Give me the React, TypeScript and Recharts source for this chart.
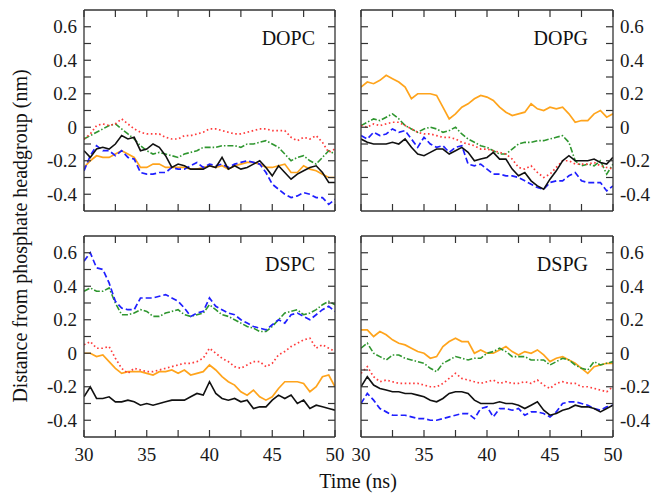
import React from 'react';
import { LineChart, Line, XAxis, YAxis } from 'recharts';

const TIME = [30, 30.5, 31, 31.5, 32, 32.5, 33, 33.5, 34, 34.5, 35, 35.5, 36, 36.5, 37, 37.5, 38, 38.5, 39, 39.5, 40, 40.5, 41, 41.5, 42, 42.5, 43, 43.5, 44, 44.5, 45, 45.5, 46, 46.5, 47, 47.5, 48, 48.5, 49, 49.5, 50];
const X_TICKS = [30, 32.5, 35, 37.5, 40, 42.5, 45, 47.5, 50];
const Y_TICKS = [-0.4, -0.3, -0.2, -0.1, 0, 0.1, 0.2, 0.3, 0.4, 0.5, 0.6];

// DOPC
const DOPC_BLACK = [-0.14, -0.18, -0.13, -0.12, -0.13, -0.1, -0.05, -0.07, -0.06, -0.14, -0.13, -0.1, -0.12, -0.17, -0.24, -0.22, -0.23, -0.25, -0.25, -0.25, -0.23, -0.24, -0.18, -0.25, -0.23, -0.25, -0.24, -0.22, -0.2, -0.24, -0.29, -0.23, -0.27, -0.31, -0.28, -0.26, -0.24, -0.23, -0.27, -0.33, -0.33];
const DOPC_RED = [-0.07, -0.04, 0.01, 0.02, 0.01, 0.02, 0.05, 0.02, -0.01, -0.03, -0.04, -0.04, -0.04, -0.06, -0.07, -0.07, -0.05, -0.05, -0.04, -0.03, -0.01, -0.01, -0.02, -0.03, -0.04, -0.04, -0.03, -0.02, -0.01, -0.01, -0.02, -0.02, -0.02, -0.06, -0.08, -0.06, -0.07, -0.05, -0.09, -0.15, -0.13];
const DOPC_GREEN = [-0.07, -0.05, -0.03, -0.01, 0.01, 0.02, -0.01, -0.04, -0.07, -0.11, -0.14, -0.16, -0.15, -0.16, -0.17, -0.18, -0.16, -0.15, -0.14, -0.12, -0.12, -0.12, -0.11, -0.11, -0.11, -0.12, -0.1, -0.1, -0.09, -0.08, -0.1, -0.12, -0.16, -0.2, -0.18, -0.17, -0.2, -0.22, -0.18, -0.14, -0.16];
const DOPC_BLUE = [-0.26, -0.17, -0.11, -0.14, -0.14, -0.17, -0.14, -0.18, -0.19, -0.27, -0.28, -0.28, -0.27, -0.27, -0.24, -0.25, -0.25, -0.23, -0.21, -0.24, -0.22, -0.23, -0.22, -0.24, -0.22, -0.21, -0.2, -0.21, -0.22, -0.27, -0.34, -0.37, -0.4, -0.42, -0.41, -0.39, -0.4, -0.42, -0.42, -0.46, -0.43];
const DOPC_ORANGE = [-0.24, -0.2, -0.17, -0.18, -0.18, -0.16, -0.14, -0.16, -0.18, -0.24, -0.24, -0.22, -0.22, -0.24, -0.24, -0.24, -0.24, -0.25, -0.25, -0.24, -0.23, -0.24, -0.23, -0.25, -0.23, -0.22, -0.21, -0.21, -0.22, -0.24, -0.24, -0.23, -0.22, -0.27, -0.27, -0.23, -0.25, -0.26, -0.28, -0.3, -0.3];

// DOPG
const DOPG_BLACK = [-0.07, -0.09, -0.1, -0.1, -0.1, -0.09, -0.1, -0.07, -0.12, -0.16, -0.17, -0.15, -0.13, -0.13, -0.16, -0.14, -0.12, -0.15, -0.2, -0.19, -0.18, -0.15, -0.19, -0.19, -0.25, -0.29, -0.27, -0.32, -0.35, -0.37, -0.31, -0.26, -0.2, -0.17, -0.2, -0.2, -0.2, -0.19, -0.21, -0.22, -0.18];
const DOPG_RED = [0.01, 0, 0.02, 0.01, 0.02, 0.03, 0.03, 0.01, -0.01, -0.03, -0.04, -0.04, -0.05, -0.06, -0.06, -0.07, -0.09, -0.1, -0.11, -0.13, -0.13, -0.14, -0.15, -0.16, -0.19, -0.24, -0.25, -0.23, -0.27, -0.3, -0.28, -0.24, -0.2, -0.2, -0.22, -0.22, -0.22, -0.21, -0.23, -0.24, -0.25];
const DOPG_GREEN = [0.01, 0.03, 0.05, 0.04, 0.06, 0.08, 0.05, 0.01, -0.01, -0.03, -0.01, 0, -0.01, -0.03, -0.02, 0, -0.04, -0.07, -0.09, -0.11, -0.12, -0.14, -0.16, -0.16, -0.13, -0.1, -0.09, -0.09, -0.08, -0.08, -0.07, -0.06, -0.05, -0.09, -0.2, -0.23, -0.22, -0.23, -0.2, -0.28, -0.22];
const DOPG_BLUE = [-0.05, -0.07, -0.03, -0.05, -0.04, -0.01, -0.03, -0.02, -0.07, -0.12, -0.06, -0.1, -0.12, -0.11, -0.15, -0.12, -0.11, -0.22, -0.23, -0.22, -0.25, -0.28, -0.28, -0.29, -0.29, -0.3, -0.32, -0.34, -0.36, -0.37, -0.33, -0.32, -0.32, -0.29, -0.27, -0.32, -0.33, -0.33, -0.33, -0.38, -0.35];
const DOPG_ORANGE = [0.24, 0.27, 0.26, 0.28, 0.31, 0.29, 0.27, 0.24, 0.17, 0.2, 0.2, 0.2, 0.19, 0.12, 0.05, 0.08, 0.12, 0.14, 0.17, 0.19, 0.18, 0.16, 0.12, 0.09, 0.07, 0.08, 0.09, 0.14, 0.11, 0.1, 0.12, 0.11, 0.12, 0.08, 0.03, 0.04, 0.04, 0.08, 0.1, 0.06, 0.08];

// DSPC
const DSPC_BLACK = [-0.26, -0.2, -0.27, -0.27, -0.26, -0.29, -0.29, -0.28, -0.29, -0.31, -0.3, -0.31, -0.3, -0.29, -0.28, -0.28, -0.28, -0.26, -0.24, -0.25, -0.17, -0.24, -0.27, -0.28, -0.27, -0.29, -0.28, -0.33, -0.32, -0.32, -0.28, -0.25, -0.27, -0.25, -0.3, -0.28, -0.33, -0.31, -0.32, -0.33, -0.34];
const DSPC_RED = [0.05, 0.07, 0.03, 0.03, 0.04, -0.03, -0.09, -0.12, -0.09, -0.1, -0.11, -0.11, -0.1, -0.09, -0.08, -0.07, -0.06, -0.06, -0.05, -0.03, 0.03, 0, -0.03, -0.05, -0.08, -0.09, -0.07, -0.05, -0.05, -0.08, -0.06, -0.01, 0.01, 0.04, 0.06, 0.08, 0.09, 0.03, 0.05, 0.03, 0.01];
const DSPC_GREEN = [0.37, 0.39, 0.37, 0.37, 0.39, 0.3, 0.23, 0.23, 0.24, 0.26, 0.25, 0.22, 0.22, 0.24, 0.25, 0.26, 0.23, 0.22, 0.23, 0.24, 0.29, 0.26, 0.23, 0.22, 0.2, 0.18, 0.16, 0.15, 0.13, 0.13, 0.16, 0.2, 0.24, 0.25, 0.26, 0.23, 0.24, 0.26, 0.29, 0.31, 0.29];
const DSPC_BLUE = [0.55, 0.6, 0.51, 0.5, 0.42, 0.31, 0.27, 0.26, 0.26, 0.33, 0.33, 0.33, 0.34, 0.35, 0.33, 0.31, 0.27, 0.22, 0.24, 0.25, 0.33, 0.28, 0.26, 0.24, 0.23, 0.2, 0.18, 0.16, 0.15, 0.14, 0.17, 0.2, 0.18, 0.23, 0.24, 0.22, 0.2, 0.23, 0.26, 0.28, 0.25];
const DSPC_ORANGE = [0, 0, -0.02, -0.01, -0.05, -0.09, -0.12, -0.11, -0.11, -0.11, -0.12, -0.13, -0.11, -0.11, -0.1, -0.12, -0.1, -0.13, -0.12, -0.11, -0.07, -0.1, -0.14, -0.17, -0.19, -0.23, -0.25, -0.22, -0.26, -0.28, -0.26, -0.21, -0.17, -0.17, -0.17, -0.18, -0.23, -0.2, -0.14, -0.13, -0.2];

// DSPG
const DSPG_BLACK = [-0.2, -0.14, -0.19, -0.21, -0.22, -0.23, -0.23, -0.24, -0.24, -0.25, -0.26, -0.28, -0.29, -0.27, -0.24, -0.23, -0.23, -0.24, -0.28, -0.3, -0.3, -0.3, -0.29, -0.3, -0.3, -0.31, -0.33, -0.31, -0.29, -0.34, -0.37, -0.36, -0.34, -0.33, -0.31, -0.32, -0.32, -0.33, -0.35, -0.33, -0.31];
const DSPG_RED = [-0.12, -0.08, -0.14, -0.17, -0.16, -0.17, -0.18, -0.18, -0.18, -0.18, -0.19, -0.2, -0.2, -0.18, -0.15, -0.12, -0.15, -0.16, -0.17, -0.18, -0.17, -0.16, -0.18, -0.17, -0.18, -0.18, -0.17, -0.18, -0.16, -0.19, -0.21, -0.18, -0.17, -0.18, -0.18, -0.2, -0.2, -0.21, -0.22, -0.23, -0.2];
const DSPG_GREEN = [0.03, 0.06, 0, -0.02, -0.04, -0.01, -0.01, -0.03, -0.04, -0.05, -0.06, -0.09, -0.11, -0.06, -0.04, -0.02, -0.03, -0.04, -0.03, -0.03, 0, 0.01, 0.03, 0.01, -0.02, -0.02, -0.02, -0.04, -0.04, -0.04, -0.07, -0.05, -0.03, -0.04, -0.07, -0.09, -0.1, -0.05, -0.07, -0.06, -0.05];
const DSPG_BLUE = [-0.3, -0.24, -0.28, -0.33, -0.35, -0.37, -0.37, -0.37, -0.38, -0.39, -0.39, -0.4, -0.4, -0.39, -0.38, -0.37, -0.36, -0.36, -0.39, -0.33, -0.32, -0.38, -0.33, -0.33, -0.34, -0.33, -0.37, -0.35, -0.35, -0.36, -0.38, -0.35, -0.3, -0.29, -0.29, -0.3, -0.31, -0.33, -0.34, -0.32, -0.31];
const DSPG_ORANGE = [0.14, 0.14, 0.1, 0.13, 0.11, 0.08, 0.06, 0.05, 0.03, 0.01, 0, -0.03, -0.02, 0.04, 0.07, 0.09, 0.07, 0.07, 0, 0.02, 0, 0, 0.02, 0.04, 0.01, -0.01, 0.01, 0, 0.02, -0.01, -0.05, -0.03, -0.02, -0.04, -0.06, -0.09, -0.12, -0.08, -0.07, -0.06, -0.06];

const PANELS = [
  { name: 'DOPC', x: 84, y: 10, w: 251, h: 201, left: true, bottom: false, series: [DOPC_BLACK, DOPC_RED, DOPC_GREEN, DOPC_BLUE, DOPC_ORANGE] },
  { name: 'DOPG', x: 361, y: 10, w: 252, h: 201, left: false, bottom: false, series: [DOPG_BLACK, DOPG_RED, DOPG_GREEN, DOPG_BLUE, DOPG_ORANGE] },
  { name: 'DSPC', x: 84, y: 236, w: 251, h: 201, left: true, bottom: true, series: [DSPC_BLACK, DSPC_RED, DSPC_GREEN, DSPC_BLUE, DSPC_ORANGE] },
  { name: 'DSPG', x: 361, y: 236, w: 252, h: 201, left: false, bottom: true, series: [DSPG_BLACK, DSPG_RED, DSPG_GREEN, DSPG_BLUE, DSPG_ORANGE] },
];

const STYLES = [
  { key: 'orange', idx: 4, color: '#ffa41c', dash: undefined, width: 1.7 },
  { key: 'green', idx: 2, color: '#2f962f', dash: '6 2 1.5 2', width: 1.6 },
  { key: 'red', idx: 1, color: '#ff3b3b', dash: '1.6 2.6', width: 1.7 },
  { key: 'blue', idx: 3, color: '#1f1fff', dash: '6 3', width: 1.7 },
  { key: 'black', idx: 0, color: '#111111', dash: undefined, width: 1.6 },
];

const FONT = '"Liberation Serif", "Times New Roman", serif';
const P = 40;
const TICK = 7;
const AXIS_COLOR = '#333';

const fmtY = (v: number) => {
  const r = Math.round(v * 10);
  if (r % 2 !== 0) return '';
  return r === 0 ? '0' : (r / 10).toFixed(1);
};
const fmtX = (v: number) => (v % 5 === 0 ? String(v) : '');
const blank = () => '';

function Panel({ p }: { p: (typeof PANELS)[number] }) {
  const data = TIME.map((t, i) => {
    const row: Record<string, number> = { t };
    STYLES.forEach((s) => {
      row[s.key] = p.series[s.idx][i];
    });
    return row;
  });
  const tickStyle = { fontFamily: FONT, fontSize: 19, fill: '#1a1a1a' };
  const axisCommon = {
    stroke: AXIS_COLOR,
    axisLine: { stroke: AXIS_COLOR, strokeWidth: 1.3 },
    tickLine: { stroke: AXIS_COLOR, strokeWidth: 1.2 },
    tickSize: -TICK,
    tick: tickStyle,
  };
  return (
    <div style={{ position: 'absolute', left: p.x - P, top: p.y - P }}>
      <LineChart width={p.w + 2 * P} height={p.h + 2 * P} data={data} margin={{ top: 0, right: 0, bottom: 0, left: 0 }}>
        <XAxis
          {...axisCommon}
          xAxisId={0}
          dataKey="t"
          type="number"
          domain={[30, 50]}
          ticks={X_TICKS}
          orientation="bottom"
          height={P}
          tickMargin={TICK + 11}
          tickFormatter={p.bottom ? fmtX : blank}
          interval={0}
          allowDataOverflow
        />
        <XAxis
          {...axisCommon}
          xAxisId="top"
          dataKey="t"
          type="number"
          domain={[30, 50]}
          ticks={X_TICKS}
          orientation="top"
          height={P}
          tickFormatter={blank}
          interval={0}
          allowDataOverflow
        />
        <YAxis
          {...axisCommon}
          yAxisId={0}
          type="number"
          domain={[-0.5, 0.7]}
          ticks={Y_TICKS}
          orientation="left"
          width={P}
          tickMargin={TICK + 7}
          tickFormatter={p.left ? fmtY : blank}
          interval={0}
          allowDataOverflow
        />
        <YAxis
          {...axisCommon}
          yAxisId="right"
          type="number"
          domain={[-0.5, 0.7]}
          ticks={Y_TICKS}
          orientation="right"
          width={P}
          tickMargin={TICK + 7}
          tickFormatter={p.left ? blank : fmtY}
          interval={0}
          allowDataOverflow
        />
        {STYLES.map((s) => (
          <Line
            key={s.key}
            xAxisId={0}
            yAxisId={0}
            dataKey={s.key}
            type="linear"
            stroke={s.color}
            strokeWidth={s.width}
            strokeDasharray={s.dash}
            dot={false}
            activeDot={false}
            isAnimationActive={false}
          />
        ))}
      </LineChart>
    </div>
  );
}

export default function App() {
  return (
    <div style={{ position: 'absolute', left: 0, top: 0, width: 664, height: 493, background: '#fff', overflow: 'hidden' }}>
      {PANELS.map((p) => (
        <Panel key={p.name} p={p} />
      ))}
      <svg width={664} height={493} style={{ position: 'absolute', left: 0, top: 0, pointerEvents: 'none' }}>
        {PANELS.map((p) => (
          <text
            key={p.name}
            x={p.x + p.w - (p.left ? 20 : 25)}
            y={p.y + 35}
            textAnchor="end"
            fontFamily={FONT}
            fontSize={20}
            fill="#111"
          >
            {p.name}
          </text>
        ))}
        <text x={358} y={488} textAnchor="middle" fontFamily={FONT} fontSize={20} fill="#111">
          Time (ns)
        </text>
        <text
          x={0}
          y={0}
          transform="translate(27,236) rotate(-90)"
          textAnchor="middle"
          fontFamily={FONT}
          fontSize={20}
          fill="#111"
        >
          Distance from phosphate headgroup (nm)
        </text>
      </svg>
    </div>
  );
}
